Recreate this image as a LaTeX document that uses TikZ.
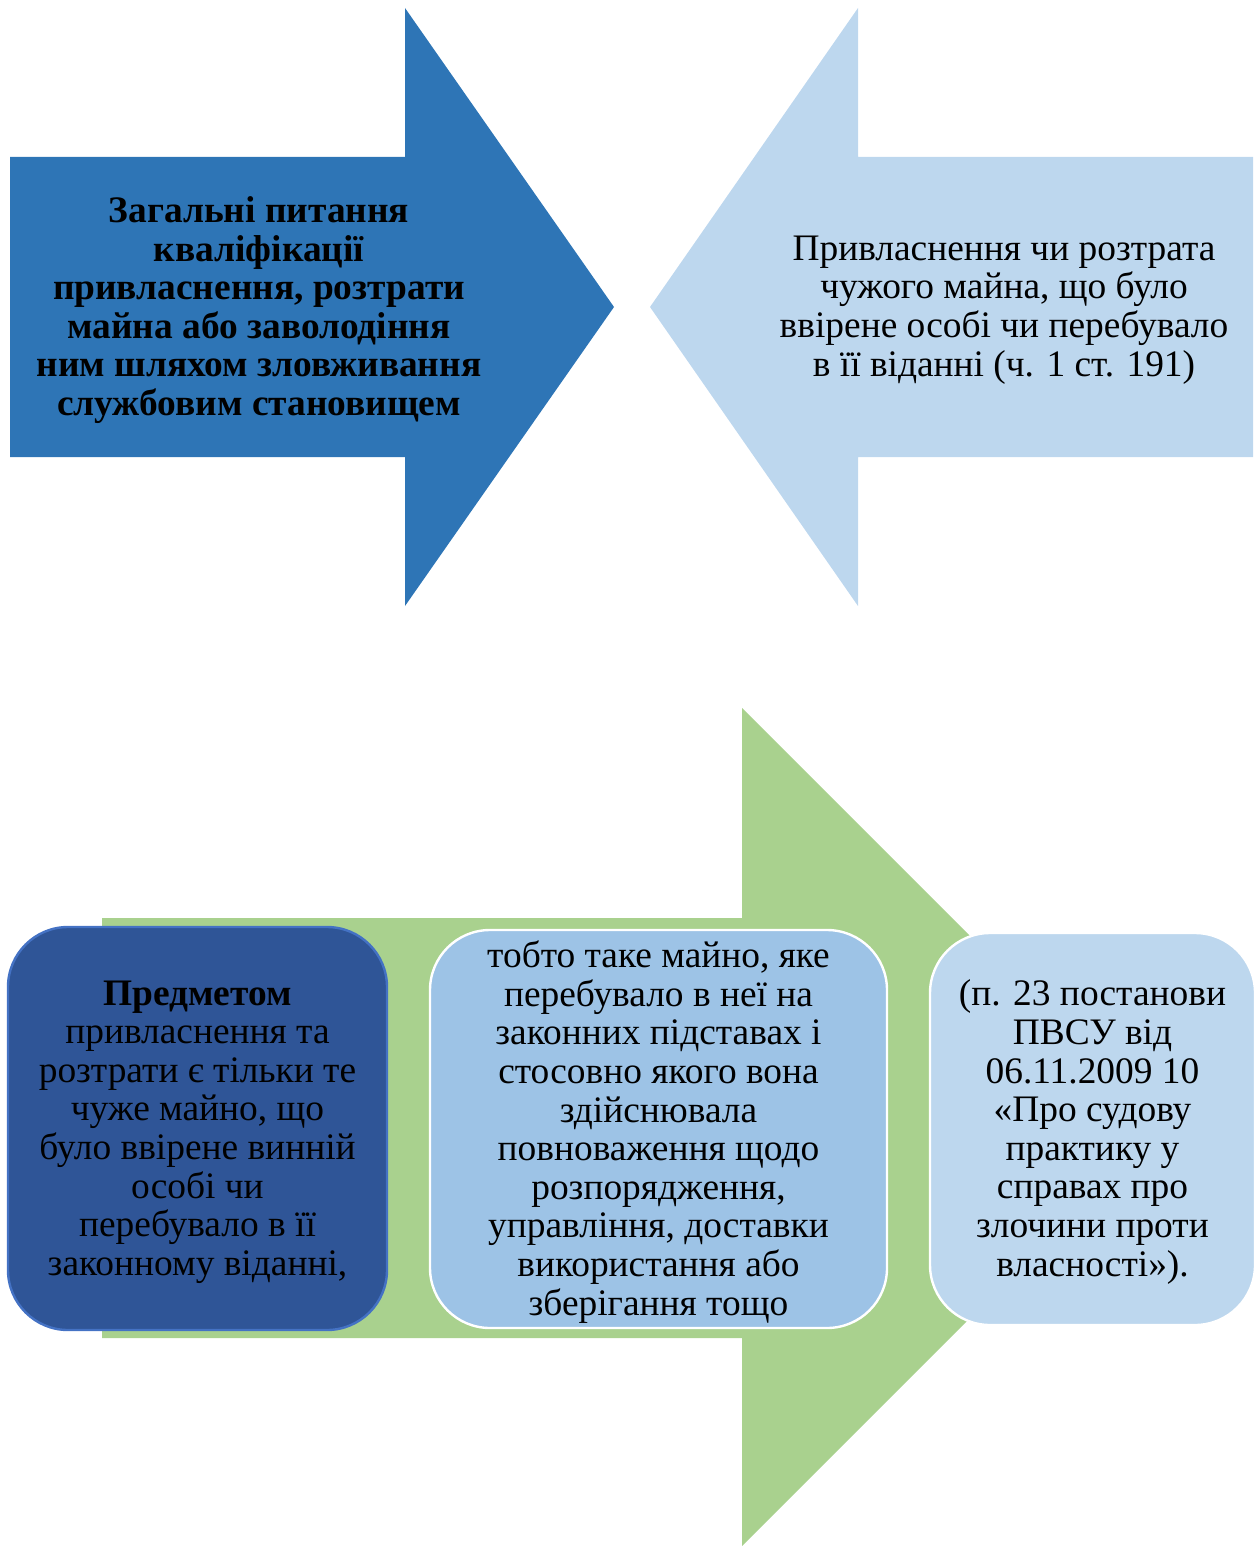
\documentclass[tikz,border=0pt]{standalone}
\usepackage{fontspec}
\setmainfont{Liberation Serif}
\definecolor{darkarrow}{HTML}{2E75B6}
\definecolor{lightarrow}{HTML}{BDD7EE}
\definecolor{greenarrow}{HTML}{A9D18E}
\definecolor{boxdark}{HTML}{2F5597}
\definecolor{boxdarkborder}{HTML}{4472C4}
\definecolor{boxmid}{HTML}{9DC3E6}
\begin{document}
\begin{tikzpicture}[x=0.5pt,y=-0.5pt,
  txt/.style={align=center,font=\fontsize{18.7}{19.3}\selectfont,inner sep=1pt},
  rbox/.style={rounded corners=30pt,inner sep=0pt,line width=1.2pt}]
\useasboundingbox (0,0) rectangle (1253,1546);
% top-left arrow
\fill[darkarrow] (10,157) -- (405,157) -- (405,8) -- (614,307) -- (405,606) -- (405,457) -- (10,457) -- cycle;
\node[txt,font=\fontsize{18.7}{19.3}\selectfont\bfseries] (t1) at (259,310) {Загальні питання\\кваліфікації\\привласнення, розтрати\\майна або заволодіння\\ним шляхом зловживання\\службовим становищем};
% top-right arrow
\fill[lightarrow] (1253,157) -- (858,157) -- (858,8) -- (650,307) -- (858,606) -- (858,457) -- (1253,457) -- cycle;
\node[txt] (t2) at (1004,310) {Привласнення чи розтрата\\чужого майна, що було\\ввірене особі чи перебувало\\в її віданні (ч. 1 ст. 191)};
% green arrow
\fill[greenarrow] (102,918) -- (742,918) -- (742,708) -- (1161,1127) -- (742,1546) -- (742,1338) -- (102,1338) -- cycle;
% boxes
\node[rbox,fill=boxdark,draw=boxdarkborder,minimum width=189.5pt,minimum height=201.5pt] (b1) at (197.5,1128.5) {};
\node[txt] (b1t) at (197.5,1132) {\textbf{Предметом}\\привласнення та\\розтрати є тільки те\\чуже майно, що\\було ввірене винній\\особі чи\\перебувало в її\\законному віданні,};
\node[rbox,fill=boxmid,draw=white,minimum width=228.5pt,minimum height=199pt] (b2) at (658.5,1129) {};
\node[txt] (b2t) at (658.5,1132) {тобто таке майно, яке\\перебувало в неї на\\законних підставах і\\стосовно якого вона\\здійснювала\\повноваження щодо\\розпорядження,\\управління, доставки\\використання або\\зберігання тощо};
\node[rbox,fill=lightarrow,draw=white,minimum width=162.5pt,minimum height=196pt] (b3) at (1092.5,1129) {};
\node[txt] (b3t) at (1092.5,1132) {(п. 23 постанови\\ПВСУ від\\06.11.2009 10\\«Про судову\\практику у\\справах про\\злочини проти\\власності»).};
\end{tikzpicture}
\end{document}
